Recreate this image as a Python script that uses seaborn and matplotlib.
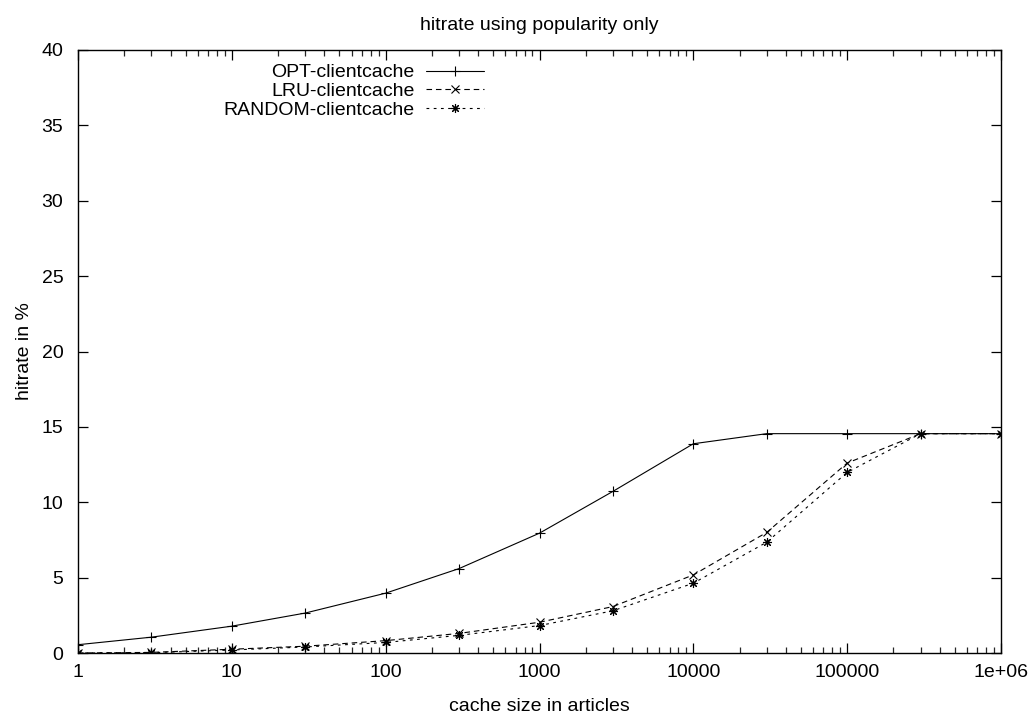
import numpy as np
import pandas as pd
import matplotlib
matplotlib.use("Agg")
import matplotlib.pyplot as plt
import seaborn as sns
from matplotlib.ticker import LogLocator, FixedLocator, FixedFormatter, NullFormatter

cache_sizes = [1, 3, 10, 30, 100, 300, 1000, 3000, 10000, 30000, 100000, 300000, 1000000]
opt_hitrate = [0.55, 1.05, 1.78, 2.65, 3.97, 5.6, 7.95, 10.72, 13.88, 14.55, 14.55, 14.55, 14.55]
lru_hitrate = [0.0, 0.04, 0.25, 0.45, 0.82, 1.3, 2.04, 3.08, 5.18, 8.0, 12.6, 14.55, 14.55]
random_hitrate = [0.0, 0.02, 0.2, 0.4, 0.7, 1.17, 1.82, 2.8, 4.63, 7.35, 11.98, 14.55, 14.55]

series_names = ["OPT-clientcache", "LRU-clientcache", "RANDOM-clientcache"]
x_tick_values = [1, 10, 100, 1000, 10000, 100000, 1000000]
x_tick_labels = ["1", "10", "100", "1000", "10000", "100000", "1e+06"]
y_tick_values = [0, 5, 10, 15, 20, 25, 30, 35, 40]

sns.set_theme(style="white")
plt.rcParams['font.family'] = ['Liberation Sans', 'DejaVu Sans']
plt.rcParams['text.color'] = 'black'
plt.rcParams['axes.labelcolor'] = 'black'
FS = 14

fig = plt.figure(figsize=(10.31, 7.13), dpi=100)
ax = fig.add_axes([78/1031, 1 - 653/713, (1001-78)/1031, (653-50)/713])

lw = 0.8
asterisk = (8, 2, 0)
styles = [
    dict(marker='+', linestyle='-', markersize=6.5),
    dict(marker='x', linestyle=(0, (5.0, 3.5)), markersize=5.5),
    dict(marker=asterisk, linestyle=(0, (2.5, 4.0)), markersize=6.5),
]
for name, vals, st in zip(series_names, [opt_hitrate, lru_hitrate, random_hitrate], styles):
    df = pd.DataFrame({"size": cache_sizes, "hitrate": vals})
    sns.lineplot(data=df, x="size", y="hitrate", ax=ax, color='black', linewidth=lw,
                 marker=st['marker'], linestyle=st['linestyle'], markersize=st['markersize'],
                 markeredgecolor='black', markeredgewidth=0.8, label=name)

ax.set_xscale('log')
ax.set_xlim(1, 1e6)
ax.set_ylim(0, 40)

ax.xaxis.set_major_locator(FixedLocator(x_tick_values))
ax.xaxis.set_major_formatter(FixedFormatter(x_tick_labels))
ax.xaxis.set_minor_locator(LogLocator(base=10, subs=np.arange(2, 10), numticks=20))
ax.xaxis.set_minor_formatter(NullFormatter())
ax.yaxis.set_major_locator(FixedLocator(y_tick_values))

ax.tick_params(axis='both', which='major', direction='in', length=7, width=0.9,
               top=True, right=True, bottom=True, left=True, labelsize=FS, colors='black')
ax.tick_params(axis='x', which='major', pad=8)
ax.tick_params(axis='y', which='major', pad=10.5)
ax.tick_params(axis='x', which='minor', direction='in', length=4, width=0.9,
               top=True, bottom=True)

for sp in ax.spines.values():
    sp.set_color('black')
    sp.set_linewidth(1.0)
    sp.set_visible(True)

ax.set_xlabel("cache size in articles", fontsize=FS, color='black', labelpad=12)
ax.set_ylabel("hitrate in %", fontsize=FS, color='black', labelpad=6)
ax.set_title("hitrate using popularity only", fontsize=FS, color='black', pad=14.4)

leg = ax.legend(loc='upper right', bbox_to_anchor=(0.4486, 0.99), frameon=False,
                markerfirst=False, fontsize=FS, labelspacing=0.06, handlelength=3.0,
                handletextpad=0.57, borderaxespad=0.0)
for t in leg.get_texts():
    t.set_ha('right')
    t.set_color('black')

fig.savefig("out.png", dpi=100)
